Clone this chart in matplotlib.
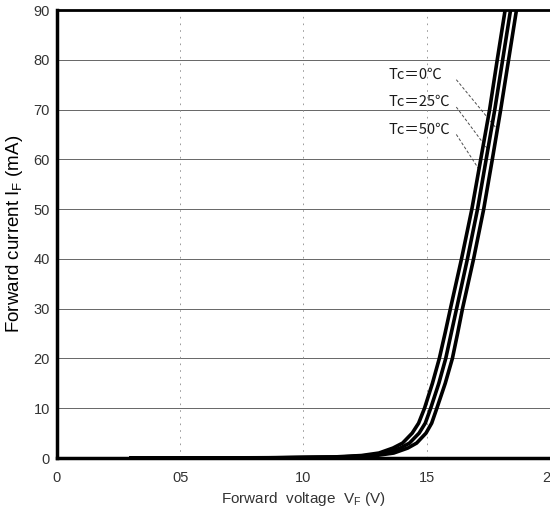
import numpy as np
import matplotlib
matplotlib.use("Agg")
import matplotlib.pyplot as plt

plt.rcParams['font.family'] = ['Liberation Sans', 'DejaVu Sans']

# forward current readings (mA) and forward voltage (V) per case temperature
current_ma = [0, 0.05, 0.2, 0.5, 1, 2, 3, 5, 7, 10, 15, 20, 25, 30, 40, 50,
              60, 70, 80, 90, 95]
vf_50c = [0.30, 0.86, 1.12, 1.235, 1.306, 1.363, 1.402, 1.441, 1.467, 1.491, 1.523,
          1.551, 1.574, 1.596, 1.641, 1.683, 1.719, 1.755, 1.786, 1.818, 1.832]
vf_25c = [0.30, 0.89, 1.15, 1.265, 1.336, 1.393, 1.430, 1.469, 1.494, 1.516, 1.549,
          1.577, 1.599, 1.621, 1.665, 1.706, 1.741, 1.776, 1.808, 1.840, 1.855]
vf_0c = [0.30, 0.92, 1.18, 1.295, 1.366, 1.423, 1.459, 1.497, 1.520, 1.541, 1.575,
         1.604, 1.625, 1.645, 1.690, 1.731, 1.766, 1.800, 1.832, 1.864, 1.878]

x_ticks = [0, 0.5, 1.0, 1.5, 2.0]
x_tick_labels = ['0', '05', '10', '15', '2']
y_ticks = [0, 10, 20, 30, 40, 50, 60, 70, 80, 90]

# label text, text position (V, mA), leader end current (mA)
labels = ['Tc＝0℃', 'Tc＝25℃', 'Tc＝50℃']
label_pos = [(1.343, 77.0), (1.343, 71.5), (1.343, 66.0)]
leader_end_ma = [66, 62, 58]

fig = plt.figure(figsize=(5.5, 5.08), dpi=100)
ax = fig.add_axes([0.1036, 0.0984, 0.8964, 0.8819])

# faint scanned-looking grid
for y in y_ticks[1:]:
    ax.axhline(y, color='0.4', lw=0.7, zorder=1)
for x in x_ticks[1:4]:
    ax.axvline(x, color='0.55', lw=0.6, ls=(0, (2, 6)), zorder=1)

curves = [vf_0c, vf_25c, vf_50c]
for vf in curves:
    ax.plot(vf, current_ma, color='black', lw=2.6, solid_joinstyle='round', zorder=3)

# temperature labels with leader lines
for text, (tx, ty), end_ma, vf in zip(labels, label_pos, leader_end_ma, curves):
    ax.text(tx, ty, text, fontsize=10.5, ha='left', va='center', color='0.1',
            family=['DejaVu Sans Condensed', 'Noto Sans CJK JP', 'DejaVu Sans'])
    ex = np.interp(end_ma, current_ma, vf)
    ax.plot([1.62, ex], [ty - 1.0, end_ma], color='0.3', lw=0.7,
            ls=(0, (3, 2)), zorder=2)

ax.set_xlim(0, 2.0)
ax.set_ylim(0, 90)
ax.set_xticks(x_ticks)
ax.set_xticklabels(x_tick_labels)
for lbl in ax.get_xticklabels()[-1:]:
    lbl.set_horizontalalignment('right')
ax.tick_params(axis='both', length=0, labelsize=10.5, labelcolor='0.2')
ax.tick_params(axis='x', pad=9)
ax.tick_params(axis='y', pad=5)
ax.set_yticks(y_ticks)

for side in ['left', 'bottom']:
    ax.spines[side].set_linewidth(2.5)
ax.spines['top'].set_linewidth(2.0)
ax.spines['right'].set_visible(False)

ax.set_xlabel('Forward  voltage  $\\mathregular{V_F}$ (V)', fontsize=11,
              color='0.2', labelpad=4)
ax.set_ylabel('Forward current $\\mathregular{I_F}$ (mA)', fontsize=13.5,
              color='black', labelpad=6)

fig.savefig('out.png', dpi=100)
